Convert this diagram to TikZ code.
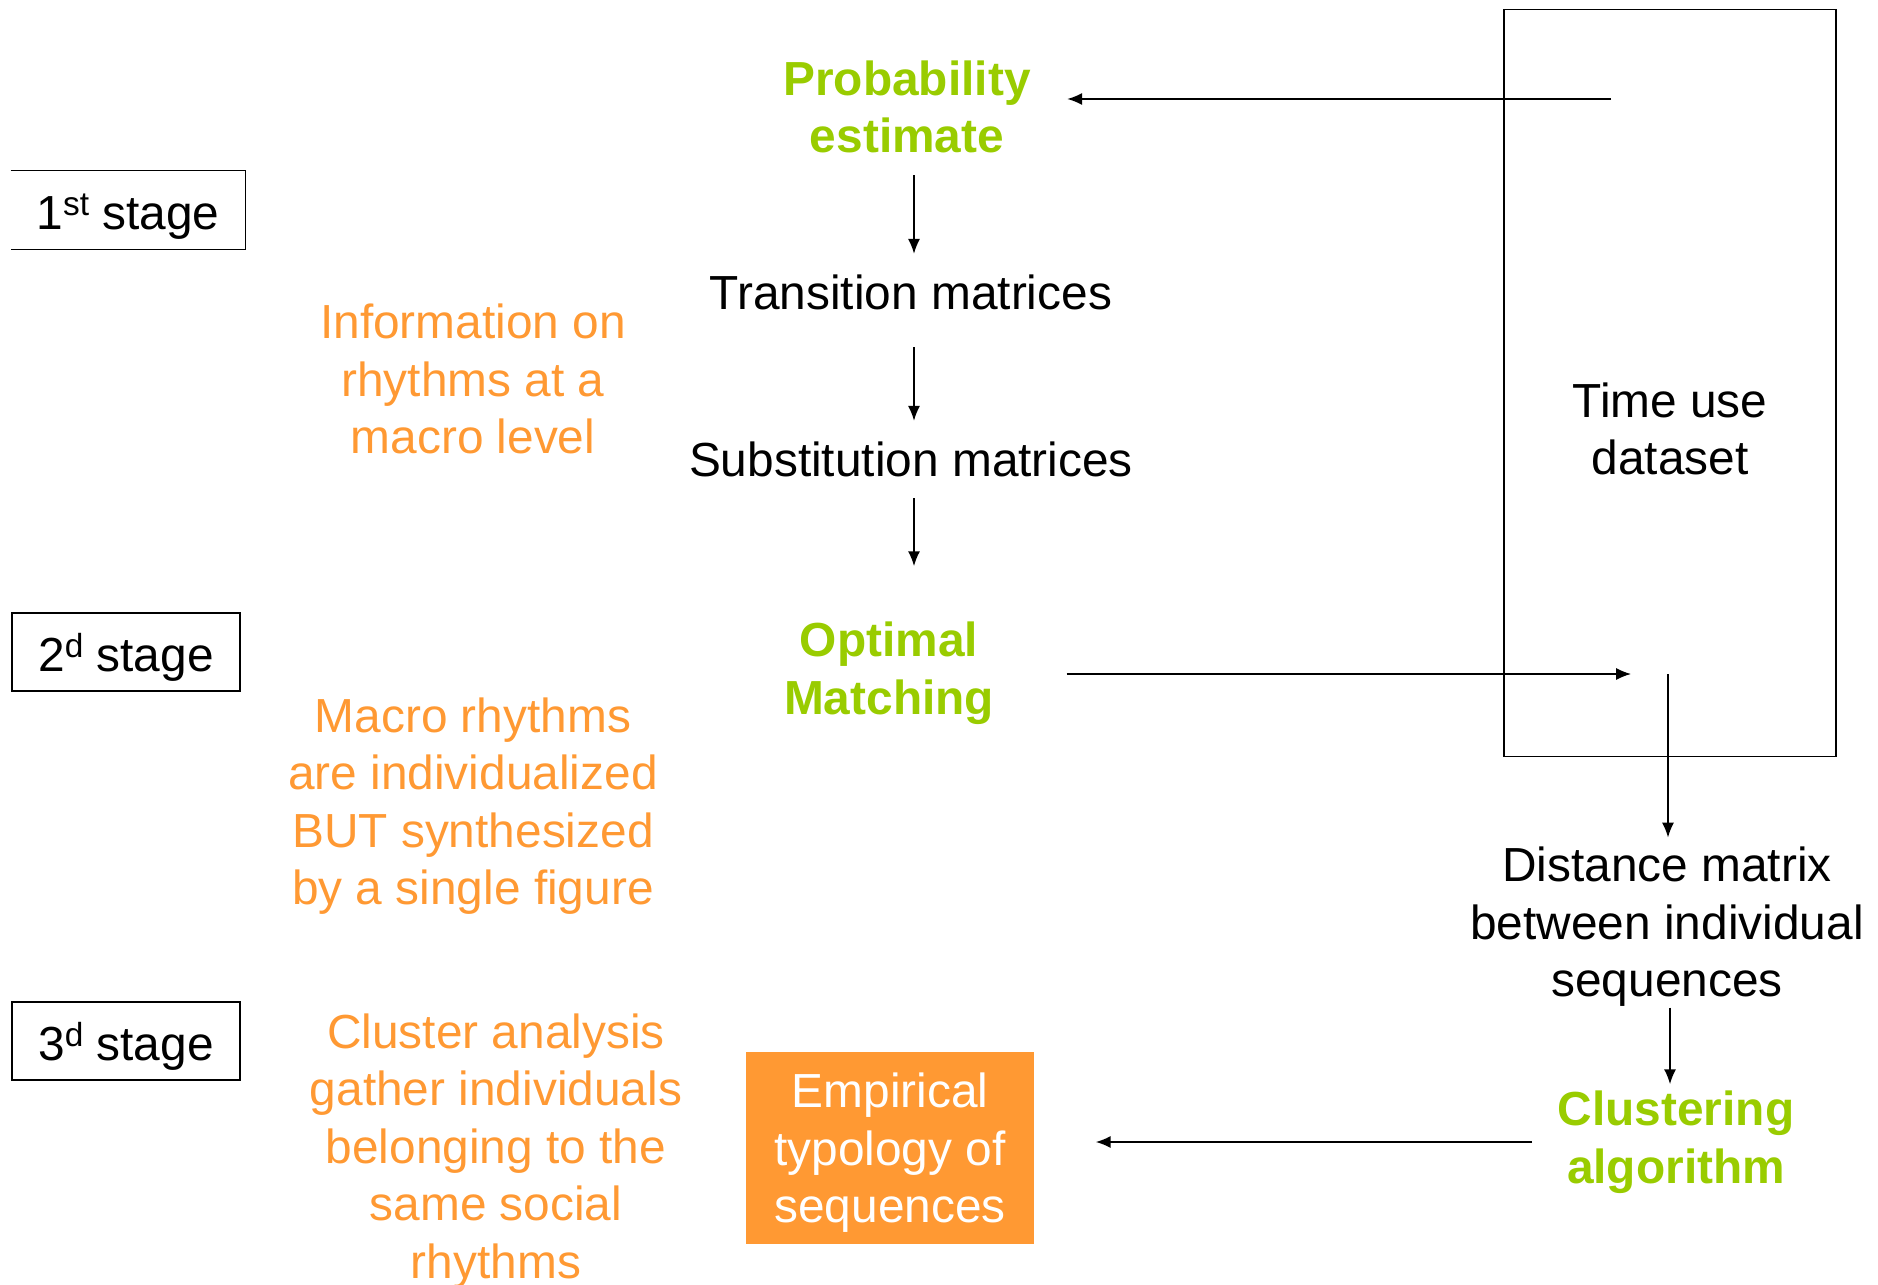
\documentclass[tikz,border=0pt]{standalone}
\usepackage{fontspec}
\setmainfont{Liberation Sans}
\usetikzlibrary{positioning}
\usetikzlibrary{calc}
\usetikzlibrary{arrows.meta}
\definecolor{mygreen}{HTML}{99CC00}
\definecolor{myorange}{HTML}{FF9933}

\newcommand{\stagesup}[1]{\raisebox{.55ex}{\fontsize{9.5}{9.5}\selectfont #1}}

\tikzset{
  txt/.style={font=\fontsize{13.6}{16.36}\selectfont, align=center, inner sep=0pt},
  stagebox/.style={txt, minimum height=.78cm, text height=.49cm, text depth=.1cm},
  hilite/.style={txt, text=mygreen, font=\fontsize{13.6}{16.36}\selectfont\bfseries},
  remark/.style={txt, text=myorange},
}

\begin{document}
\begin{tikzpicture}[>={Latex[length=4.2pt,width=3.4pt]}, x=0.01cm, y=-0.01cm]
  \useasboundingbox (0,0) rectangle (1878,1285);

  % stages on the left
  \node[stagebox, minimum width=2.33cm] (S1) at (128,210) {1\stagesup{st}\ stage};
  \node[stagebox, draw, minimum width=2.28cm] (S2) at (126,652) {2\stagesup{d}\ stage};
  \node[stagebox, draw, minimum width=2.28cm] (S3) at (126,1041) {3\stagesup{d}\ stage};
  \draw (S1.north west) -| (S1.south east) -- (S1.south west);

  \node[remark] (I1) at (473,379) {Information on\\rhythms at a\\macro level};
  \node[remark] (I2) at (473,806) {Macro rhythms\\are individualized\\BUT synthesized\\by a single figure};
  \node[remark] (I3) at (496,1151) {Cluster analysis\\gather individuals\\belonging to the\\same social\\rhythms};

  % main chain
  \node[hilite] (Prob) at (907,107) {Probability\\estimate};
  \node[txt] (Trans) at (911,292) {Transition matrices};
  \node[txt] (Subst) at (911,459) {Substitution matrices};
  \node[hilite] (OM) at (889,673) {Optimal\\Matching};

  % data set
  \node[draw, minimum width=3.32cm, minimum height=7.46cm] (Data) at (1670,383) {};
  \node[txt] (TU) at (1670,429) {Time use\\dataset};
  \node[txt] (Dist) at (1667,927) {Distance matrix\\between individual\\sequences};
  \node[hilite] (Clust) at (1676,1142) {Clustering\\algorithm};
  \node[txt, fill=myorange, text=white, text depth=0pt, minimum width=2.88cm, minimum height=1.91cm] (Emp) at (890,1148) {Empirical\\typology of\\sequences};

  \coordinate (tu out) at (1611,99);
  \coordinate (hub) at (1668,674);

  \draw[->, shorten >=.36cm] (tu out) -- (tu out -| Prob.east);
  \draw[->, shorten <=.21cm, shorten >=.2cm] (Prob.south -| Trans) ++(3,0) coordinate (a) -- (a |- Trans.north);
  \draw[->, shorten <=.37cm, shorten >=.2cm] (Trans.south) ++(3,0) coordinate (b) -- (b |- Subst.north);
  \draw[->, shorten <=.21cm, shorten >=.55cm] (Subst.south) ++(3,0) coordinate (c) -- (c |- OM.north);
  \draw[->, shorten <=.72cm, shorten >=.37cm] (hub -| OM.east) -- (hub);
  \draw[->, shorten >=.09cm] (hub) -- (hub |- Dist.north);
  \draw[->, shorten <=.0cm, shorten >=.06cm] (Dist.south) ++(3,0) coordinate (d) -- (d |- Clust.north);
  \draw[->, shorten <=.25cm, shorten >=.61cm] (Clust.west) -- (Clust.west -| Emp.east);
\end{tikzpicture}
\end{document}
